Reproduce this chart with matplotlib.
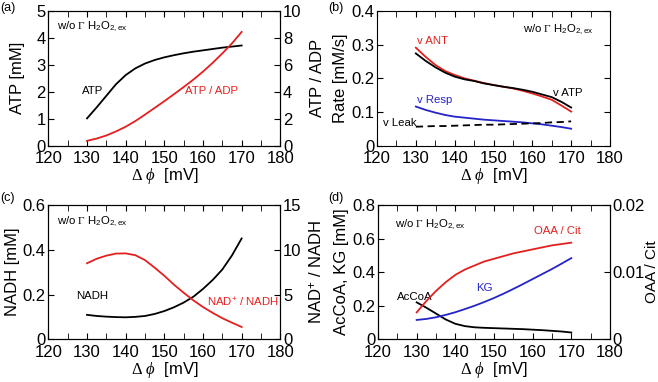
import matplotlib
matplotlib.use("Agg")
import matplotlib.pyplot as plt
from matplotlib.ticker import MultipleLocator

plt.rcParams['font.family'] = ['Liberation Sans', 'DejaVu Sans']
# greek letters in serif like the original, subscripts via \mathsf in sans
plt.rcParams['mathtext.fontset'] = 'custom'
plt.rcParams['mathtext.rm'] = 'Liberation Serif'
plt.rcParams['mathtext.it'] = 'Liberation Serif:italic'
plt.rcParams['mathtext.sf'] = 'Liberation Sans'

RED = '#e3201f'
BLUE = '#2424c8'
FS = 8.2  # in-plot labels

# membrane potential grid [mV]
dphi = [130, 132.5, 135, 137.5, 140, 142.5, 145, 147.5, 150,
        152.5, 155, 157.5, 160, 162.5, 165, 167.5, 170]

# (a)
atp = [1.01, 1.42, 1.85, 2.28, 2.62, 2.87, 3.05, 3.18, 3.28,
       3.36, 3.43, 3.49, 3.54, 3.59, 3.64, 3.68, 3.72]
atp_adp = [0.35, 0.52, 0.75, 1.05, 1.40, 1.82, 2.30, 2.80, 3.30,
           3.82, 4.35, 4.90, 5.50, 6.15, 6.85, 7.60, 8.45]

# (b)
v_ant = [0.291, 0.264, 0.240, 0.222, 0.210, 0.200, 0.193, 0.186, 0.180,
         0.175, 0.170, 0.163, 0.155, 0.146, 0.136, 0.119, 0.101]
v_atp = [0.274, 0.252, 0.233, 0.217, 0.205, 0.197, 0.192, 0.185, 0.180,
         0.175, 0.171, 0.166, 0.160, 0.152, 0.144, 0.130, 0.113]
v_resp = [0.116, 0.106, 0.098, 0.091, 0.086, 0.083, 0.080, 0.077, 0.075,
          0.073, 0.071, 0.069, 0.066, 0.063, 0.059, 0.055, 0.050]
v_leak = [0.056, 0.057, 0.058, 0.058, 0.059, 0.060, 0.061, 0.062, 0.062,
          0.063, 0.064, 0.065, 0.066, 0.067, 0.069, 0.070, 0.072]

# (c)
nadh = [0.109, 0.104, 0.101, 0.099, 0.098, 0.100, 0.104, 0.113, 0.126,
        0.143, 0.164, 0.190, 0.225, 0.265, 0.312, 0.375, 0.451]
nad_ratio = [8.50, 9.00, 9.35, 9.58, 9.60, 9.40, 8.85, 8.00, 7.10,
             6.10, 5.20, 4.35, 3.60, 2.95, 2.35, 1.85, 1.37]

# (d)
accoa = [0.220, 0.188, 0.153, 0.118, 0.092, 0.078, 0.071, 0.068, 0.066,
         0.064, 0.062, 0.060, 0.057, 0.054, 0.050, 0.046, 0.040]
kg = [0.115, 0.121, 0.131, 0.145, 0.161, 0.180, 0.200, 0.222, 0.246,
      0.272, 0.300, 0.329, 0.359, 0.389, 0.419, 0.451, 0.484]
oaa_cit = [0.0040, 0.0057, 0.0072, 0.0085, 0.0096, 0.0104, 0.0110, 0.0116, 0.0120,
           0.0124, 0.0128, 0.0131, 0.0134, 0.0137, 0.0140, 0.0142, 0.0144]

note = r"w/o $\Gamma$ H$_{\mathsf{2}}$O$_{\mathsf{2,ex}}$"
xlab = r"$\Delta\ \phi$  [mV]"


def setup(ax, ymax, ystep):
    ax.set_xlim(120, 180)
    ax.set_ylim(0, ymax)
    ax.xaxis.set_major_locator(MultipleLocator(10))
    ax.xaxis.set_minor_locator(MultipleLocator(5))
    ax.yaxis.set_major_locator(MultipleLocator(ystep))
    ax.tick_params(which='both', direction='in', top=True, labelsize=12, pad=2, length=4)
    ax.tick_params(axis='x', pad=4)
    ax.set_xlabel(xlab, fontsize=12, labelpad=0)
    for s in ax.spines.values():
        s.set_linewidth(0.8)


def twin(ax, ymax, ystep, label, pad, size=12):
    t = ax.twinx()
    t.set_ylim(0, ymax)
    t.yaxis.set_major_locator(MultipleLocator(ystep))
    t.tick_params(direction='in', labelsize=12, length=4, pad=2)
    t.set_ylabel(label, fontsize=size, labelpad=pad)
    return t


fig = plt.figure(figsize=(6.58, 3.82), dpi=100)
lw = 1.3

# (a)
ax = fig.add_axes([0.0735, 0.619, 0.3525, 0.352])
setup(ax, 5, 1)
ax.plot(dphi, atp, color='black', lw=lw)
ax.set_ylabel("ATP [mM]", fontsize=12, labelpad=8)
ax.text(128.8, 1.9, "ATP", fontsize=FS)
ax.text(155.3, 1.9, "ATP / ADP", fontsize=FS, color=RED)
ax.text(122.3, 4.3, note, fontsize=FS)
t = twin(ax, 10, 2, "ATP / ADP", 6)
t.plot(dphi, atp_adp, color=RED, lw=lw)
fig.text(0.0, 0.995, "(a)", fontsize=9, va='top')

# (b)
ax = fig.add_axes([0.573, 0.619, 0.354, 0.352])
setup(ax, 0.4, 0.1)
ax.set_yticks([0, 0.1, 0.2, 0.3, 0.4], ["0", "0.1", "0.2", "0.3", "0.4"])
ax.tick_params(axis='y', right=True)
ax.plot(dphi, v_ant, color=RED, lw=lw)
ax.plot(dphi, v_atp, color='black', lw=lw)
ax.plot(dphi, v_resp, color=BLUE, lw=lw)
ax.plot(dphi, v_leak, color='black', lw=lw, ls=(0, (4, 2.5)))
ax.set_ylabel("Rate [mM/s]", fontsize=12, labelpad=2)
ax.text(130.2, 0.302, "v ANT", fontsize=FS, color=RED)
ax.text(165.4, 0.146, "v ATP", fontsize=FS)
ax.text(130.2, 0.128, "v Resp", fontsize=FS, color=BLUE)
ax.text(121.6, 0.059, "v Leak", fontsize=FS)
ax.text(157.5, 0.337, note, fontsize=FS)
fig.text(0.4985, 0.995, "(b)", fontsize=9, va='top')

# (c)
ax = fig.add_axes([0.0735, 0.112, 0.3525, 0.351])
setup(ax, 0.6, 0.2)
ax.set_yticks([0, 0.2, 0.4, 0.6], ["0", "0.2", "0.4", "0.6"])
ax.plot(dphi, nadh, color='black', lw=lw)
ax.set_ylabel("NADH [mM]", fontsize=12, labelpad=2)
ax.text(127.2, 0.178, "NADH", fontsize=FS)
ax.text(161.0, 0.150, r"NAD$^{\mathsf{+}}$ / NADH", fontsize=FS, color=RED)
ax.text(122.3, 0.515, note, fontsize=FS)
t = twin(ax, 15, 5, r"NAD$^{\mathsf{+}}$ / NADH", 5)
t.plot(dphi, nad_ratio, color=RED, lw=lw)
fig.text(0.0, 0.497, "(c)", fontsize=9, va='top')

# (d)
ax = fig.add_axes([0.5745, 0.112, 0.3525, 0.351])
setup(ax, 0.8, 0.2)
ax.set_yticks([0, 0.2, 0.4, 0.6, 0.8], ["0", "0.2", "0.4", "0.6", "0.8"])
ax.plot(dphi, accoa, color='black', lw=lw)
ax.plot(dphi, kg, color=BLUE, lw=lw)
ax.set_ylabel("AcCoA, KG [mM]", fontsize=12, labelpad=2)
ax.text(125.0, 0.235, "AcCoA", fontsize=FS)
ax.text(145.5, 0.285, "KG", fontsize=FS, color=BLUE)
ax.text(160.3, 0.625, "OAA / Cit", fontsize=FS, color=RED)
ax.text(124.5, 0.665, note, fontsize=FS)
t = twin(ax, 0.02, 0.01, "OAA / Cit", 0, size=11)
t.yaxis.set_label_coords(1.15, 0.5)
t.set_yticks([0, 0.01, 0.02], ["0", "0.01", "0.02"])
t.plot(dphi, oaa_cit, color=RED, lw=lw)
fig.text(0.4985, 0.497, "(d)", fontsize=9, va='top')

fig.savefig("out.png", dpi=100)
